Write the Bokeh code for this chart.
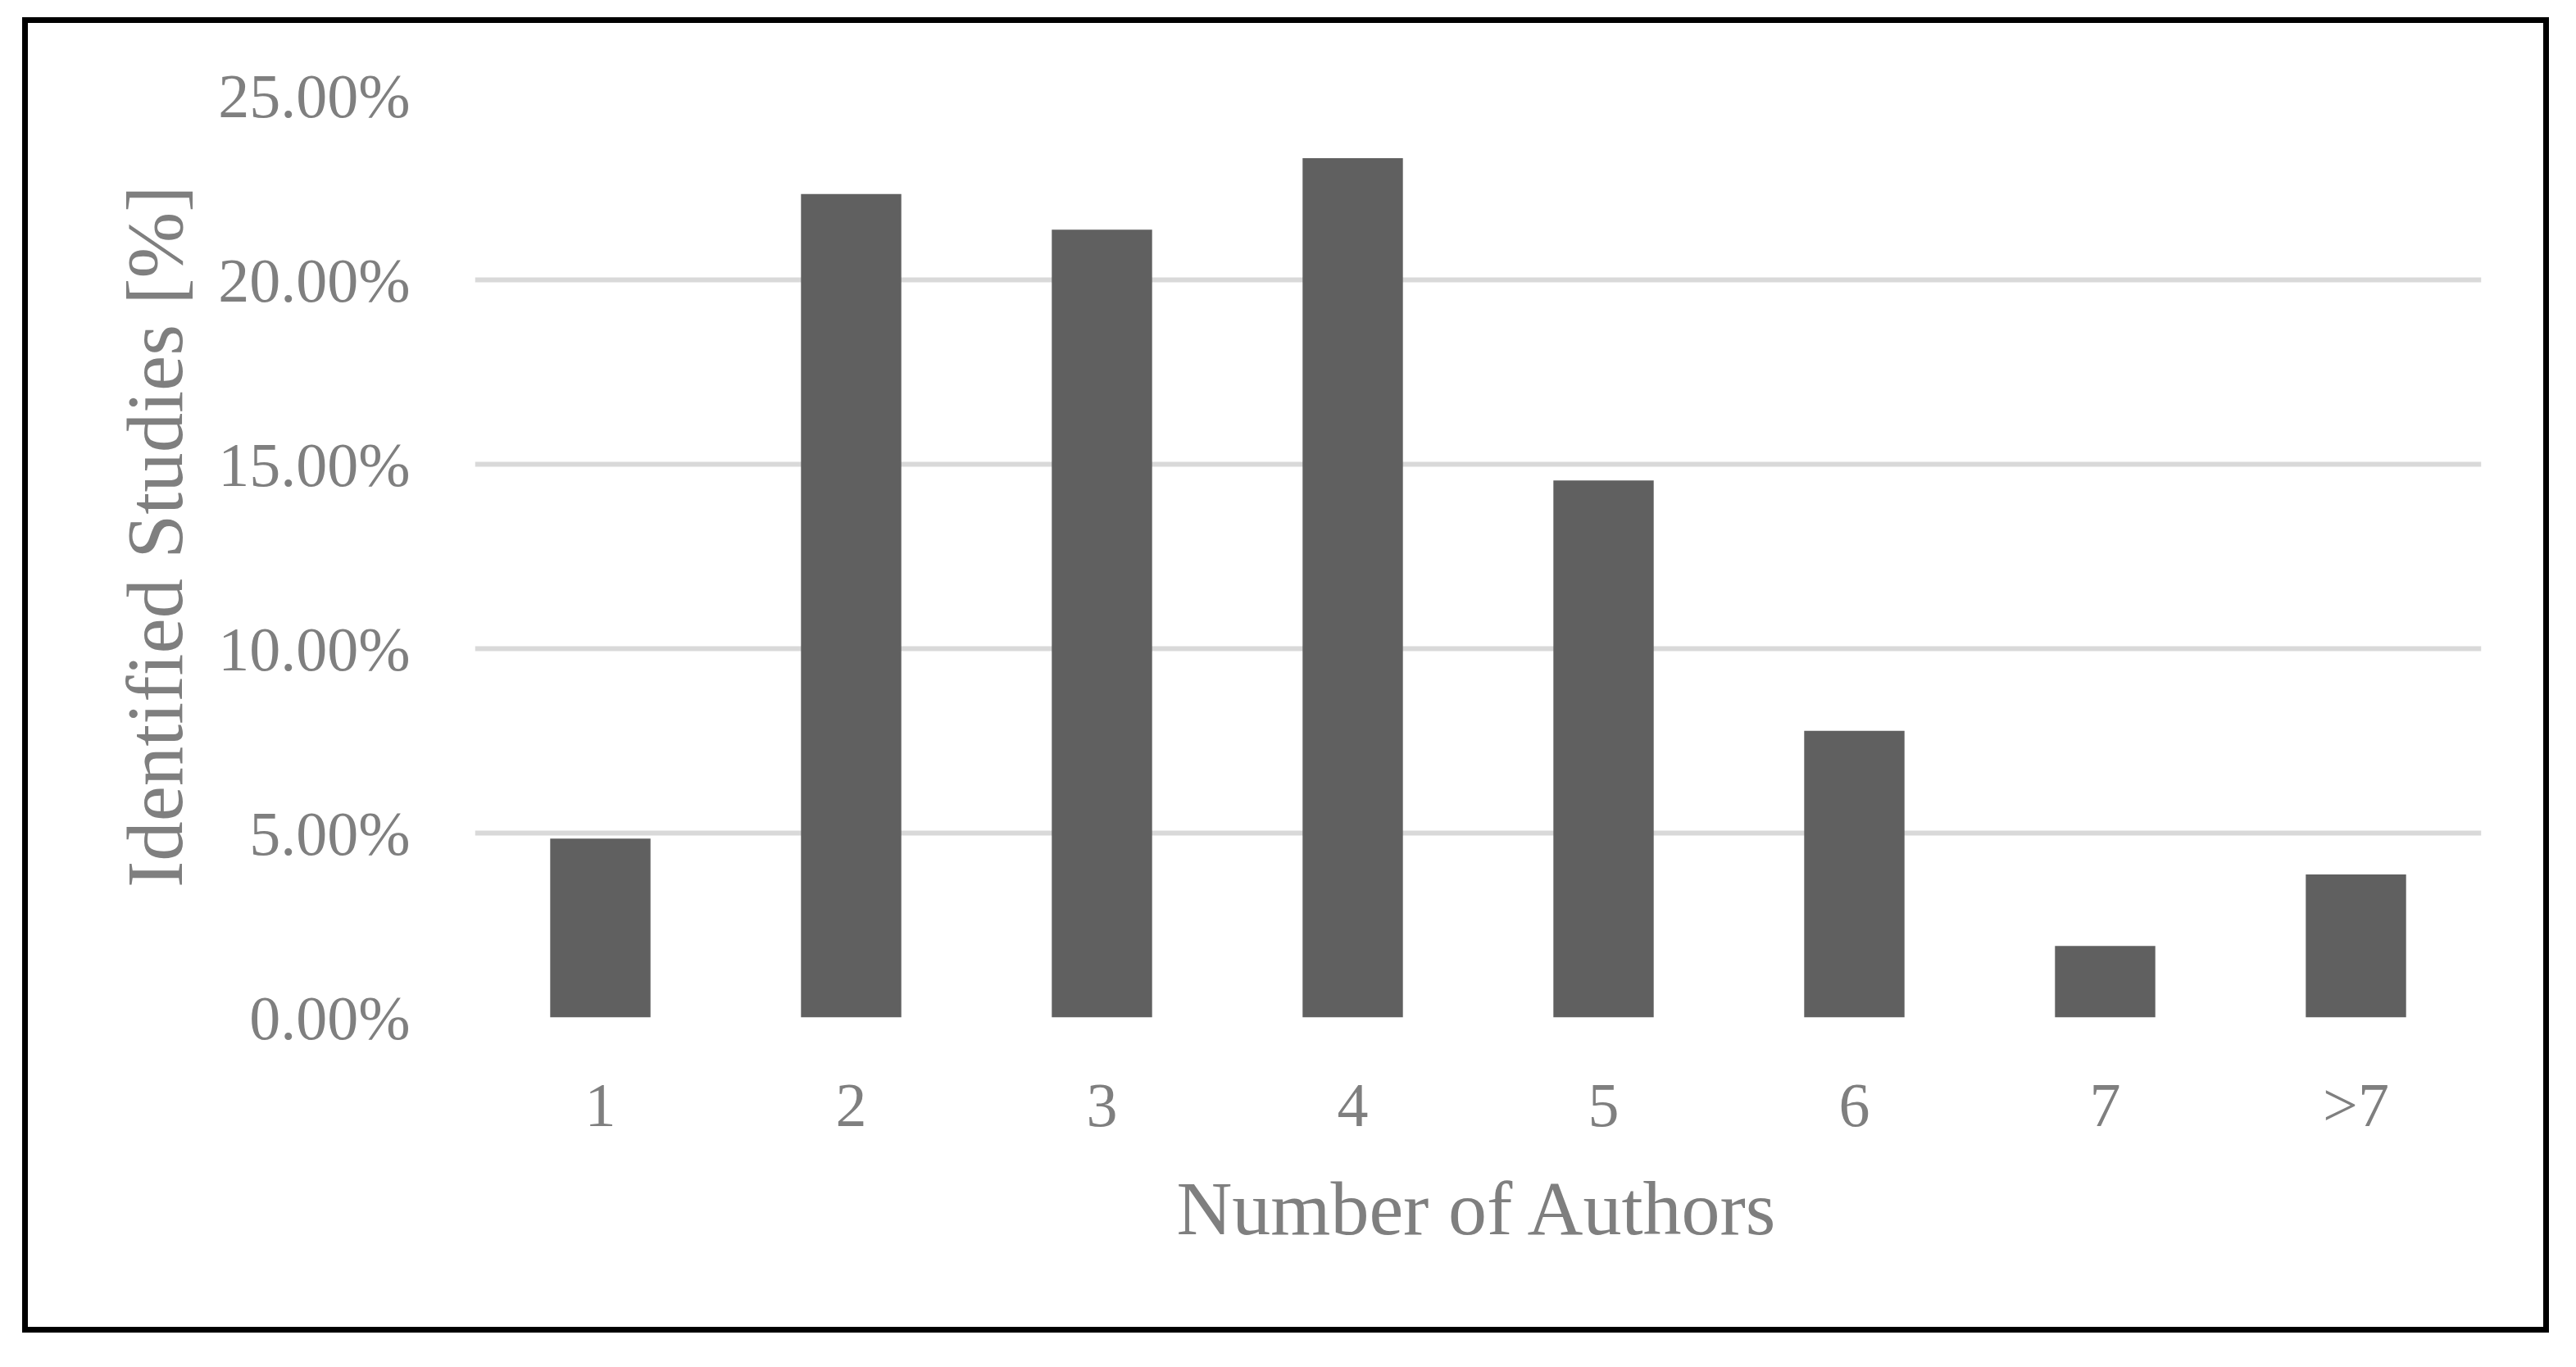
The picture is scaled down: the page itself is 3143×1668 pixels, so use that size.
from bokeh.plotting import figure
from bokeh.models import ColumnDataSource, FixedTicker, PrintfTickFormatter, Range1d, FactorRange
from bokeh.embed import file_html
from bokeh.resources import INLINE

# Data
categories = ["1", "2", "3", "4", "5", "6", "7", ">7"]
shares = [4.85, 22.33, 21.36, 23.30, 14.56, 7.77, 1.94, 3.88]   # Identified studies [%]
y_ticks = [0, 5, 10, 15, 20, 25]

x_title = "Number of Authors"
y_title = "\u00a0\u00a0Identified Studies [%]"

FONT = "Liberation Serif"
TEXT = "#7f7f7f"

src = ColumnDataSource(dict(cat=categories, val=shares))

p = figure(
    x_range=FactorRange(*categories, range_padding=0),
    y_range=Range1d(0, 25),
    width=3083, height=1605,
    output_backend="svg", toolbar_location=None,
    min_border_left=545, min_border_right=90,
    min_border_top=88, min_border_bottom=392,
)
p.margin = (21, 0, 0, 27)
p.styles = {"border": "7px solid black"}

p.vbar(x="cat", top="val", width=0.4, source=src, color="#606060", line_color=None)

p.outline_line_color = None
p.background_fill_color = "white"
p.border_fill_color = "white"

p.xgrid.grid_line_color = None
p.ygrid.ticker = FixedTicker(ticks=y_ticks)
p.ygrid.grid_line_color = "#d9d9d9"
p.ygrid.grid_line_width = 6

for ax in (p.xaxis[0], p.yaxis[0]):
    ax.axis_line_color = None
    ax.major_tick_line_color = None
    ax.minor_tick_line_color = None
    ax.major_tick_out = 0
    ax.major_tick_in = 0
    ax.minor_tick_out = 0
    ax.major_label_text_font = FONT
    ax.major_label_text_font_size = "76px"
    ax.major_label_text_color = TEXT
    ax.axis_label_text_font = FONT
    ax.axis_label_text_color = TEXT
    ax.axis_label_text_font_style = "normal"

p.yaxis[0].ticker = FixedTicker(ticks=y_ticks)
p.yaxis[0].formatter = PrintfTickFormatter(format="%.2f%%")
p.yaxis[0].major_label_standoff = 79
p.yaxis[0].axis_label = y_title
p.yaxis[0].axis_label_text_font_size = "97px"
p.yaxis[0].axis_label_standoff = 20

p.xaxis[0].major_label_standoff = 64
p.xaxis[0].axis_label = x_title
p.xaxis[0].axis_label_text_font_size = "94px"
p.xaxis[0].axis_label_standoff = 29

open("out.html", "w").write(file_html(p, INLINE))
